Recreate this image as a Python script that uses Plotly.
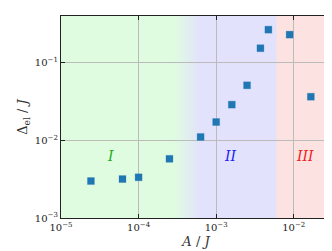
import plotly.graph_objects as go
import numpy as np

A_over_J = [2.43e-5, 6.2e-5, 1.0e-4, 2.5e-4, 6.3e-4, 1.0e-3, 1.59e-3, 2.5e-3, 3.72e-3, 4.71e-3, 8.85e-3, 1.66e-2]
delta_el = [3.0e-3, 3.18e-3, 3.35e-3, 5.8e-3, 1.11e-2, 1.73e-2, 2.9e-2, 5.15e-2, 0.155, 0.269, 0.232, 0.0367]

x_ticks = [1e-5, 1e-4, 1e-3, 1e-2]
x_tick_text = ["10<sup>−5</sup>", "10<sup>−4</sup>", "10<sup>−3</sup>", "10<sup>−2</sup>"]
y_ticks = [1e-3, 1e-2, 1e-1]
y_tick_text = ["10<sup>−3</sup>", "10<sup>−2</sup>", "10<sup>−1</sup>"]

region_labels = ["I", "II", "III"]
region_label_x = [4.4e-5, 1.55e-3, 1.38e-2]
region_label_y = 6.3e-3
region_colors = ["#22aa22", "#2222ee", "#ee2222"]

x_min, x_max = 1e-5, 10**-1.52
grad_start, grad_end = 10**-3.55, 10**-3.2
blue_red = 6.0e-3

green = np.array([224, 252, 224])
blue = np.array([226, 226, 252])
red = "rgb(253,226,226)"

font = "DejaVu Serif"
shapes = []
def rect(x0, x1, color):
    shapes.append(dict(type="rect", xref="x", yref="paper", x0=x0, x1=x1, y0=0, y1=1,
                       fillcolor=color, line=dict(width=0), layer="below"))

rect(x_min, blue_red, "rgb(224,252,224)")
n = 30
lg = np.linspace(np.log10(grad_start), np.log10(grad_end), n + 1)
for i in range(n):
    t = (i + 0.5) / n
    c = green * (1 - t) + blue * t
    rect(10**lg[i], blue_red, "rgb(%d,%d,%d)" % tuple(c.round().astype(int)))
rect(grad_end, blue_red, "rgb(226,226,252)")
rect(blue_red, x_max, red)

fig = go.Figure()
fig.add_trace(go.Scatter(x=A_over_J, y=delta_el, mode="markers",
                         marker=dict(symbol="square", size=7, color="#1f77b4",
                                     line=dict(width=0.5, color="rgba(31,119,180,0.5)")),
                         showlegend=False))

annotations = []
for lab, lx, col in zip(region_labels, region_label_x, region_colors):
    annotations.append(dict(x=np.log10(lx), y=np.log10(region_label_y), xref="x", yref="y",
                            text="<i>%s</i>" % lab, showarrow=False,
                            font=dict(family=font, size=14, color=col)))

axis_common = dict(showline=True, linecolor="#222", linewidth=1.2, mirror="ticks",
                   ticks="inside", ticklen=4, tickcolor="#222",
                   showgrid=True, gridcolor="#bbbbbb", gridwidth=1,
                   tickfont=dict(family=font, size=10, color="#222"), zeroline=False)

fig.update_layout(
    width=332, height=251,
    margin=dict(l=53, r=9, t=8, b=41),
    paper_bgcolor="white", plot_bgcolor="rgba(0,0,0,0)",
    shapes=shapes, annotations=annotations,
    xaxis=dict(type="log", range=[-5, -1.52], tickvals=x_ticks, ticktext=x_tick_text,
               title=dict(text="<i>A</i> / <i>J</i>", font=dict(family=font, size=13, color="#333"), standoff=4),
               **axis_common),
    yaxis=dict(type="log", range=[-3, -0.394], tickvals=y_ticks, ticktext=y_tick_text,
               title=dict(text="Δ<sub>el</sub> / <i>J</i>", font=dict(family=font, size=13, color="#333"), standoff=4),
               **axis_common),
)
fig.write_html("out.html")
